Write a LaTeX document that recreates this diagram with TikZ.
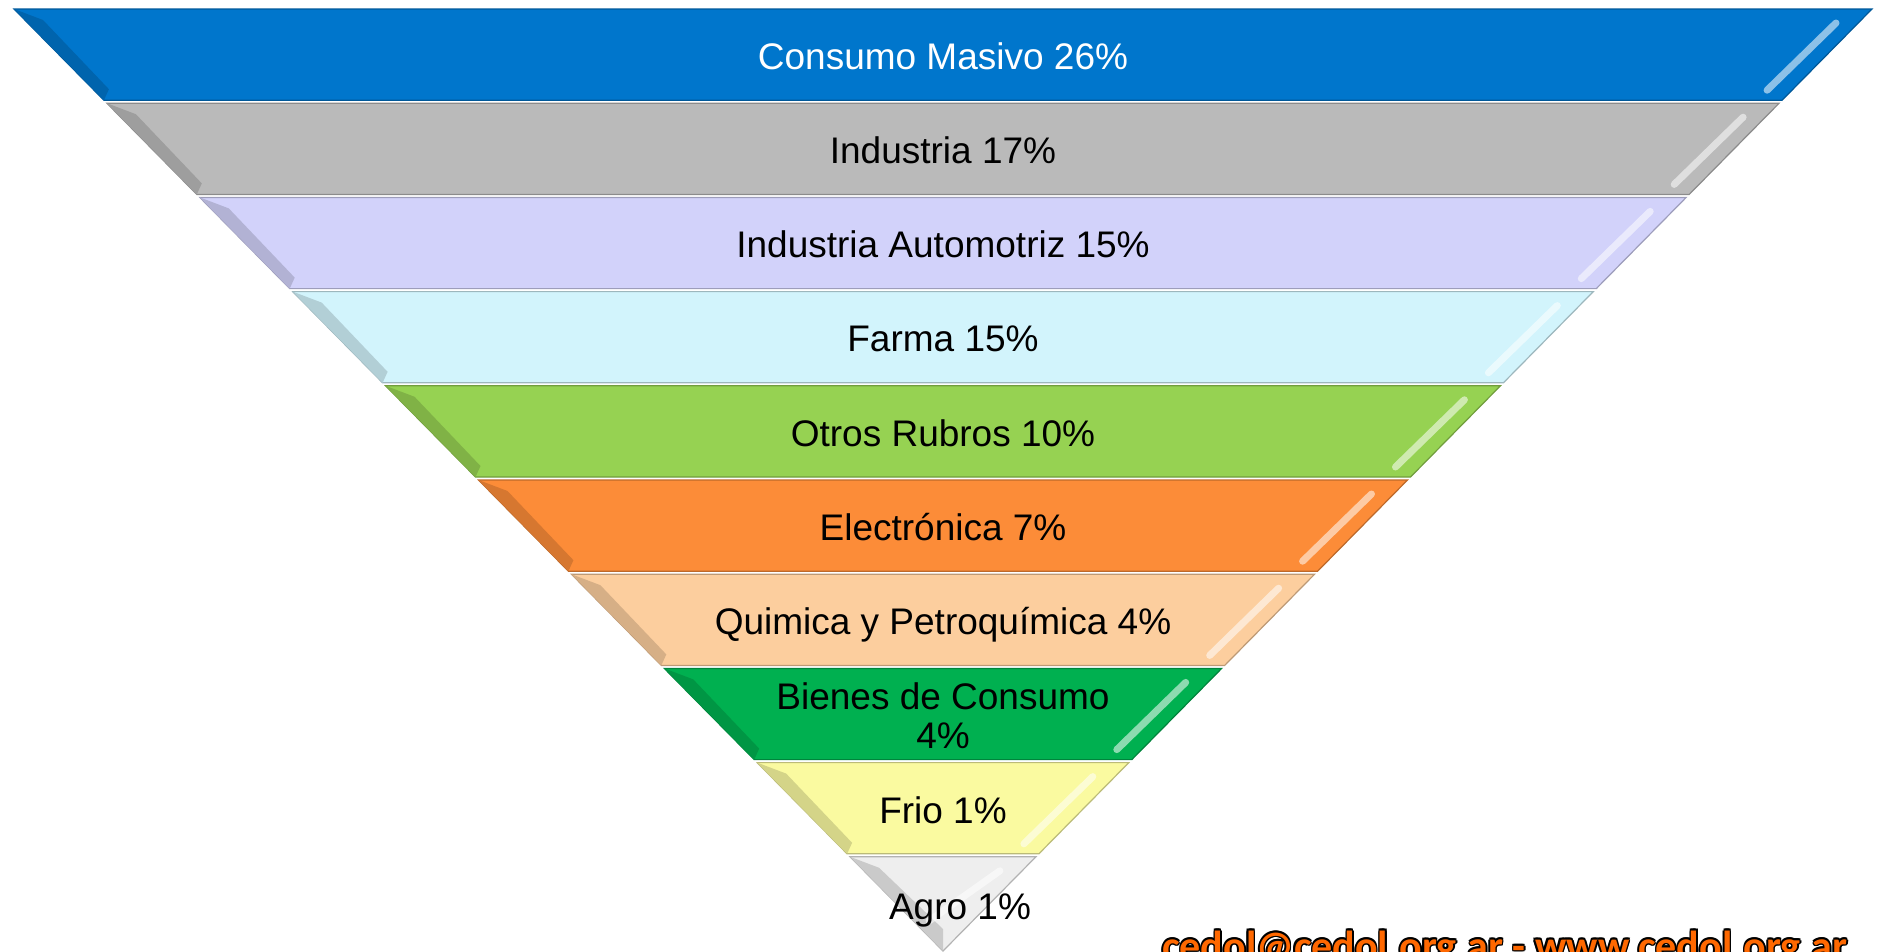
\documentclass[tikz,border=0pt]{standalone}
\usepackage{fontspec}
\setmainfont{Liberation Sans}
\newfontfamily\piedfont{Carlito}
\usepackage{tikz}
\usetikzlibrary{calc}

\definecolor{bleu}{RGB}{0,118,204}
\definecolor{gris}{RGB}{186,186,186}
\definecolor{lavande}{RGB}{210,210,250}
\definecolor{cyanclair}{RGB}{210,244,252}
\definecolor{vertclair}{RGB}{150,210,82}
\definecolor{orangevif}{RGB}{252,140,56}
\definecolor{peche}{RGB}{252,206,158}
\definecolor{vertfonce}{RGB}{0,176,80}
\definecolor{jaune}{RGB}{250,250,160}
\definecolor{blanc}{RGB}{238,238,238}
\definecolor{orangepied}{RGB}{255,104,0}

\begin{document}
\begin{tikzpicture}[x=1pt,y=-1pt,
    bande/.style={fill=#1,draw=#1!75!black,line width=1.2pt},
    facette/.style={fill=#1!85!black},
    reflet/.style={draw=white,opacity=.55,line width=7pt,line cap=round},
    texte/.style={font=\fontsize{37}{38.5}\selectfont,align=center,inner sep=0pt,text depth=0pt},
    pied/.style={font=\piedfont\bfseries\fontsize{42}{42}\selectfont,anchor=base west,inner sep=0pt}]

    \useasboundingbox (0,0) rectangle (1883,951);
    \clip (0,0) rectangle (1883,951);

    %Coins du triangle
    \coordinate (g0) at (14,9);
    \coordinate (d0) at (1872,9);
    \coordinate (haut) at (943,9);
    \coordinate (pointe) at (943,951);

    %Limites des bandes
    \coordinate (g1) at ($(g0)!0.1!(pointe)$); \coordinate (d1) at ($(d0)!0.1!(pointe)$);
    \coordinate (g2) at ($(g0)!0.2!(pointe)$); \coordinate (d2) at ($(d0)!0.2!(pointe)$);
    \coordinate (g3) at ($(g0)!0.3!(pointe)$); \coordinate (d3) at ($(d0)!0.3!(pointe)$);
    \coordinate (g4) at ($(g0)!0.4!(pointe)$); \coordinate (d4) at ($(d0)!0.4!(pointe)$);
    \coordinate (g5) at ($(g0)!0.5!(pointe)$); \coordinate (d5) at ($(d0)!0.5!(pointe)$);
    \coordinate (g6) at ($(g0)!0.6!(pointe)$); \coordinate (d6) at ($(d0)!0.6!(pointe)$);
    \coordinate (g7) at ($(g0)!0.7!(pointe)$); \coordinate (d7) at ($(d0)!0.7!(pointe)$);
    \coordinate (g8) at ($(g0)!0.8!(pointe)$); \coordinate (d8) at ($(d0)!0.8!(pointe)$);
    \coordinate (g9) at ($(g0)!0.9!(pointe)$); \coordinate (d9) at ($(d0)!0.9!(pointe)$);

    %Consumo Masivo
    \filldraw[bande=bleu] (g0) -- (d0) -- ($(d1)+(3,-3)$) -- ($(g1)+(-3,-3)$) -- cycle;
    \fill[facette=bleu] (g0) -- ($(g0)+(29,11)$) -- ($(g1)+(2,-14)$) -- ($(g1)+(-3,-3)$) -- cycle;
    \draw[reflet] ($(d0)+(-36,14)$) -- ($(d1)+(-12,-13)$);
    \node[texte,text=white] (consumo) at ($(haut)!0.05!(pointe)$) {Consumo Masivo 26\%};

    %Industria
    \filldraw[bande=gris] (g1) -- (d1) -- ($(d2)+(3,-3)$) -- ($(g2)+(-3,-3)$) -- cycle;
    \fill[facette=gris] (g1) -- ($(g1)+(29,11)$) -- ($(g2)+(2,-14)$) -- ($(g2)+(-3,-3)$) -- cycle;
    \draw[reflet] ($(d1)+(-36,14)$) -- ($(d2)+(-12,-13)$);
    \node[texte] (industria) at ($(haut)!0.15!(pointe)$) {Industria 17\%};

    %Industria Automotriz
    \filldraw[bande=lavande] (g2) -- (d2) -- ($(d3)+(3,-3)$) -- ($(g3)+(-3,-3)$) -- cycle;
    \fill[facette=lavande] (g2) -- ($(g2)+(29,11)$) -- ($(g3)+(2,-14)$) -- ($(g3)+(-3,-3)$) -- cycle;
    \draw[reflet] ($(d2)+(-36,14)$) -- ($(d3)+(-12,-13)$);
    \node[texte] (automotriz) at ($(haut)!0.25!(pointe)$) {Industria Automotriz 15\%};

    %Farma
    \filldraw[bande=cyanclair] (g3) -- (d3) -- ($(d4)+(3,-3)$) -- ($(g4)+(-3,-3)$) -- cycle;
    \fill[facette=cyanclair] (g3) -- ($(g3)+(29,11)$) -- ($(g4)+(2,-14)$) -- ($(g4)+(-3,-3)$) -- cycle;
    \draw[reflet] ($(d3)+(-36,14)$) -- ($(d4)+(-12,-13)$);
    \node[texte] (farma) at ($(haut)!0.35!(pointe)$) {Farma 15\%};

    %Otros Rubros
    \filldraw[bande=vertclair] (g4) -- (d4) -- ($(d5)+(3,-3)$) -- ($(g5)+(-3,-3)$) -- cycle;
    \fill[facette=vertclair] (g4) -- ($(g4)+(29,11)$) -- ($(g5)+(2,-14)$) -- ($(g5)+(-3,-3)$) -- cycle;
    \draw[reflet] ($(d4)+(-36,14)$) -- ($(d5)+(-12,-13)$);
    \node[texte] (otros) at ($(haut)!0.45!(pointe)$) {Otros Rubros 10\%};

    %Electronica
    \filldraw[bande=orangevif] (g5) -- (d5) -- ($(d6)+(3,-3)$) -- ($(g6)+(-3,-3)$) -- cycle;
    \fill[facette=orangevif] (g5) -- ($(g5)+(29,11)$) -- ($(g6)+(2,-14)$) -- ($(g6)+(-3,-3)$) -- cycle;
    \draw[reflet] ($(d5)+(-36,14)$) -- ($(d6)+(-12,-13)$);
    \node[texte] (electronica) at ($(haut)!0.55!(pointe)$) {Electrónica 7\%};

    %Quimica
    \filldraw[bande=peche] (g6) -- (d6) -- ($(d7)+(3,-3)$) -- ($(g7)+(-3,-3)$) -- cycle;
    \fill[facette=peche] (g6) -- ($(g6)+(29,11)$) -- ($(g7)+(2,-14)$) -- ($(g7)+(-3,-3)$) -- cycle;
    \draw[reflet] ($(d6)+(-36,14)$) -- ($(d7)+(-12,-13)$);
    \node[texte] (quimica) at ($(haut)!0.65!(pointe)$) {Quimica y Petroquímica 4\%};

    %Bienes de Consumo
    \filldraw[bande=vertfonce] (g7) -- (d7) -- ($(d8)+(3,-3)$) -- ($(g8)+(-3,-3)$) -- cycle;
    \fill[facette=vertfonce] (g7) -- ($(g7)+(29,11)$) -- ($(g8)+(2,-14)$) -- ($(g8)+(-3,-3)$) -- cycle;
    \draw[reflet] ($(d7)+(-36,14)$) -- ($(d8)+(-12,-13)$);
    \node[texte] (bienes) at ($(haut)!0.75!(pointe)$) {Bienes de Consumo\\4\%};

    %Frio
    \filldraw[bande=jaune] (g8) -- (d8) -- ($(d9)+(3,-3)$) -- ($(g9)+(-3,-3)$) -- cycle;
    \fill[facette=jaune] (g8) -- ($(g8)+(29,11)$) -- ($(g9)+(2,-14)$) -- ($(g9)+(-3,-3)$) -- cycle;
    \draw[reflet] ($(d8)+(-36,14)$) -- ($(d9)+(-12,-13)$);
    \node[texte] (frio) at ($(haut)!0.85!(pointe)$) {Frio 1\%};

    %Agro
    \filldraw[bande=blanc] (g9) -- (d9) -- (pointe) -- cycle;
    \fill[facette=blanc] (g9) -- ($(g9)+(29,11)$) -- ($(pointe)+(0,-22)$) -- (pointe) -- cycle;
    \draw[reflet] ($(d9)+(-36,14)$) -- ($(pointe)+(-14,-30)$);
    \node[texte,xshift=17] (agro) at ($(haut)!0.953!(pointe)$) {Agro 1\%};

    %Pied de page
    \coordinate (pied) at (1162,960);
    \foreach \dx/\dy in {-1.6/0,1.6/0,0/-1.6,0/1.6,-1.1/-1.1,1.1/1.1,-1.1/1.1,1.1/-1.1}
      \node[pied,text=black] at ($(pied)+(\dx,\dy)$) {cedol@cedol.org.ar - www.cedol.org.ar};
    \node[pied,text=orangepied] (contact) at (pied) {cedol@cedol.org.ar - www.cedol.org.ar};

\end{tikzpicture}
\end{document}
